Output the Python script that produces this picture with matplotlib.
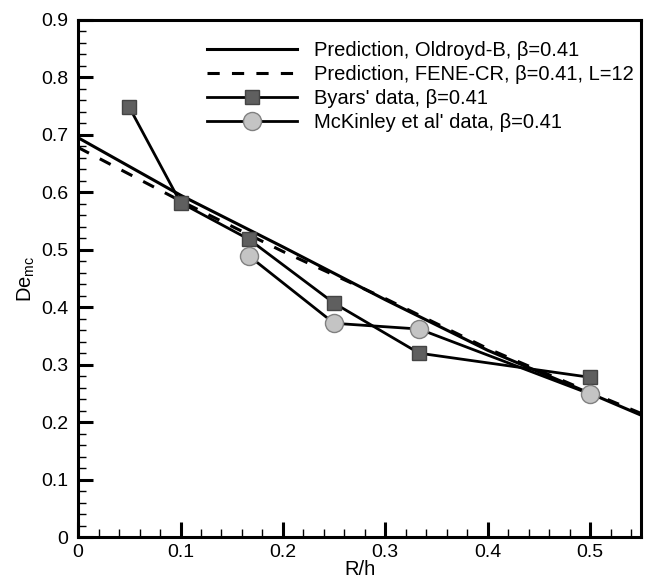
import matplotlib
matplotlib.use("Agg")
import matplotlib.pyplot as plt
from matplotlib.ticker import MultipleLocator

plt.rcParams['font.family'] = ['Liberation Sans', 'DejaVu Sans']
plt.rcParams['mathtext.fontset'] = 'custom'
plt.rcParams['mathtext.rm'] = 'Liberation Sans'
plt.rcParams['mathtext.it'] = 'Liberation Sans'

# prediction curves
pred_x = [0.0, 0.1, 0.2, 0.3, 0.4, 0.5, 0.55]
oldroyd_y = [0.695, 0.595, 0.505, 0.413, 0.325, 0.25, 0.212]
fene_y = [0.678, 0.585, 0.497, 0.415, 0.328, 0.252, 0.215]

# experimental data
byars_x = [0.05, 0.1, 0.167, 0.25, 0.333, 0.5]
byars_y = [0.748, 0.582, 0.518, 0.407, 0.32, 0.278]
mck_x = [0.167, 0.25, 0.333, 0.5]
mck_y = [0.489, 0.372, 0.362, 0.249]

xticks = [0, 0.1, 0.2, 0.3, 0.4, 0.5]
xtick_labels = ['0', '0.1', '0.2', '0.3', '0.4', '0.5']
yticks = [0, 0.1, 0.2, 0.3, 0.4, 0.5, 0.6, 0.7, 0.8, 0.9]
ytick_labels = ['0', '0.1', '0.2', '0.3', '0.4', '0.5', '0.6', '0.7', '0.8', '0.9']

fig = plt.figure(figsize=(6.51, 5.81), dpi=100)
ax = fig.add_axes([0.12, 0.0757, 0.865, 0.89])

ax.plot(pred_x, oldroyd_y, color='black', lw=2.2, label='Prediction, Oldroyd-B, β=0.41')
ax.plot(pred_x, fene_y, color='black', lw=2.2, ls=(0, (4, 4)),
        label='Prediction, FENE-CR, β=0.41, L=12')
ax.plot(byars_x, byars_y, color='black', lw=2.0, marker='s', markersize=10,
        markerfacecolor='#5f5f5f', markeredgecolor='#444444', markeredgewidth=1,
        label="Byars' data, β=0.41")
ax.plot(mck_x, mck_y, color='black', lw=2.0, marker='o', markersize=13,
        markerfacecolor='#c4c4c4', markeredgecolor='#808080', markeredgewidth=1,
        label="McKinley et al' data, β=0.41")

ax.set_xlim(0, 0.55)
ax.set_ylim(0, 0.9)
ax.set_xticks(xticks)
ax.set_xticklabels(xtick_labels)
ax.set_yticks(yticks)
ax.set_yticklabels(ytick_labels)
ax.xaxis.set_minor_locator(MultipleLocator(0.02))
ax.yaxis.set_minor_locator(MultipleLocator(0.02))
ax.tick_params(which='major', direction='in', length=11, width=2.2, labelsize=14, pad=5,
               top=False, right=False)
ax.tick_params(which='minor', direction='in', length=6, width=1, top=False, right=False)
ax.tick_params(axis='y', which='major', pad=7)

for s in ax.spines.values():
    s.set_linewidth(2.2)

ax.set_xlabel('R/h', fontsize=14.5, labelpad=-1)
ax.set_ylabel('De$_{\\mathrm{mc}}$', fontsize=14.5, labelpad=3)

ax.legend(loc='upper left', bbox_to_anchor=(0.228, 0.96), frameon=False, fontsize=14.5,
          handlelength=4.5, handletextpad=0.85, labelspacing=0.26, borderpad=0,
          borderaxespad=0)

fig.savefig('out.png', dpi=100)
